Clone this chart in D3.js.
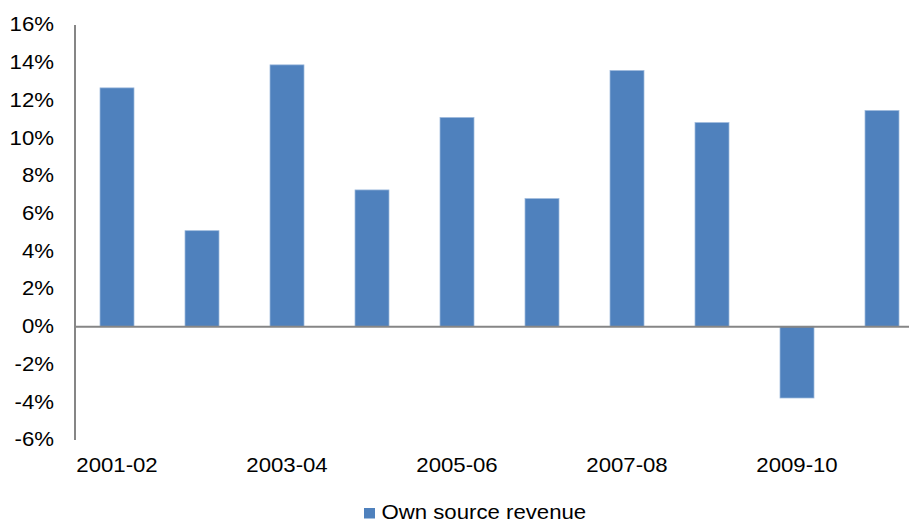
<!DOCTYPE html>
<html>
<head>
<meta charset="utf-8">
<script src="https://cdn.jsdelivr.net/npm/d3@7"></script>
<style>
  html, body { margin: 0; padding: 0; background: #fff; }
  svg { display: block; font-family: "Liberation Sans", Arial, sans-serif; }
</style>
</head>
<body>
<script>
const categories = ["2001-02","2002-03","2003-04","2004-05","2005-06","2006-07","2007-08","2008-09","2009-10","2010-11"];
const values = [12.64, 5.07, 13.86, 7.23, 11.07, 6.77, 13.56, 10.80, -3.80, 11.44];
const yTicks = [-6,-4,-2,0,2,4,6,8,10,12,14,16];
const xLabels = ["2001-02","2003-04","2005-06","2007-08","2009-10"];
const seriesName = "Own source revenue";

const W = 909, H = 524;
const SX = 1.11;   // slight horizontal stretch of text seen in the reference
const FS = 20;
const svg = d3.select("body").append("svg").attr("width", W).attr("height", H);

const x = d3.scaleBand().domain(categories).range([74.5, 924.5]).paddingInner(0.6).paddingOuter(0.3);
const y = d3.scaleLinear().domain([-6, 16]).range([439.5, 24.5]);

// bars
svg.append("g").selectAll("rect").data(values).join("rect")
  .attr("x", (d, i) => x(categories[i]))
  .attr("width", x.bandwidth())
  .attr("y", d => y(Math.max(0, d)))
  .attr("height", d => Math.abs(y(d) - y(0)))
  .attr("fill", "#4F81BD")
  .attr("stroke", "#9DB9DC")
  .attr("stroke-width", 0.75);

// y axis
const yAxis = svg.append("g").attr("transform", "translate(74.5,0)")
  .call(d3.axisLeft(y).tickValues(yTicks).tickSize(0).tickPadding(20).tickFormat(d => d + "%"));
yAxis.select(".domain").attr("stroke", "#868686").attr("stroke-width", 2);
yAxis.selectAll("text")
  .attr("font-size", FS).attr("fill", "#000")
  .attr("font-family", "'Liberation Sans', Arial, sans-serif")
  .attr("x", -20.5 / SX)
  .attr("transform", `scale(${SX},1)`);

// zero line / x axis
const xAxis = svg.append("g").attr("transform", `translate(0,${y(0)})`)
  .call(d3.axisBottom(x).tickValues([]).tickSize(0));
xAxis.select(".domain").attr("stroke", "#868686").attr("stroke-width", 2);

// x labels
svg.append("g").selectAll("text").data(xLabels).join("text")
  .attr("transform", d => `translate(${x(d) + x.bandwidth() / 2},471.5) scale(${SX},1)`)
  .attr("text-anchor", "middle")
  .attr("font-size", FS)
  .attr("fill", "#000")
  .text(d => d);

// legend
const lg = svg.append("g").attr("transform", "translate(364,508)");
lg.append("rect").attr("width", 11).attr("height", 10.5).attr("fill", "#4F81BD");
lg.append("text")
  .attr("transform", `translate(17.5,10.5) scale(${SX},1)`)
  .attr("font-size", FS).attr("fill", "#000").text(seriesName);
</script>
</body>
</html>
